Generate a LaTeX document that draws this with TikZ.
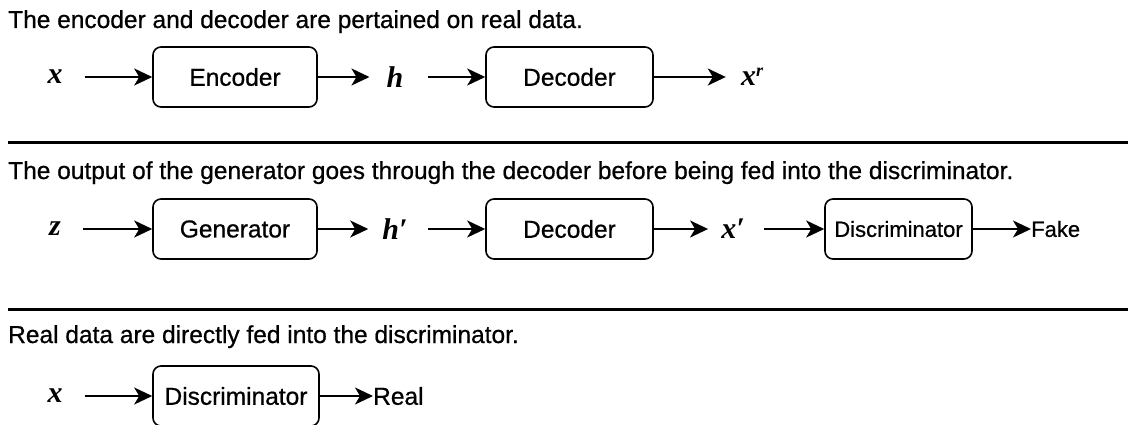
\documentclass[tikz,border=0pt]{standalone}
\usepackage{fontspec}
\setmainfont{Liberation Serif}
\setsansfont{Liberation Sans}[FakeBold=0.7]
\usetikzlibrary{arrows.meta}

\tikzset{
  blk/.style={draw, line width=1.6pt, rounded corners=8pt, inner sep=0pt,
    font=\sffamily\fontsize{24.5}{29}\selectfont, minimum height=60pt},
  var/.style={inner sep=0pt, font=\rmfamily\bfseries\itshape\fontsize{30}{34}\selectfont},
  word/.style={inner sep=0pt, font=\sffamily\fontsize{24.5}{29}\selectfont},
  small/.style={font=\sffamily\fontsize{22}{26}\selectfont},
  heading/.style={inner sep=0pt, anchor=base west, font=\sffamily\fontsize{24.5}{29}\selectfont},
  arr/.style={line width=2pt, -{Stealth[length=18pt,width=17pt,inset=5pt]}},
  rule/.style={line width=3pt},
}

\begin{document}
\begin{tikzpicture}[x=1pt,y=-1pt]
\useasboundingbox (0,0) rectangle (1144,425);

% --- pretraining of encoder and decoder
\node[heading] (t1) at (8,28) {The encoder and decoder are pertained on real data.};
\node[var] (x1) at (55,77) {x};
\node[blk, minimum width=164pt] (enc1) at (235,77) {Encoder};
\node[var] (h1) at (395,77) {h};
\node[blk, minimum width=167pt] (dec1) at (569.5,77) {Decoder};
\node[var] (xr1) at (752,77) {x\raisebox{0.3em}{\fontsize{18}{18}\selectfont r}};
\draw[arr, shorten <=22pt] (x1) -- (enc1);
\draw[arr, shorten >=17pt] (enc1) -- (h1);
\draw[arr, shorten <=24pt] (h1) -- (dec1);
\draw[arr, shorten >=15pt] (dec1) -- (xr1);

\coordinate (r1a) at (8,143);
\coordinate (r1b) at (1128,143);
\draw[rule] (r1a) -- (r1b);

% --- generator branch
\node[heading] (t2) at (8,179) {The output of the generator goes through the decoder before being fed into the discriminator.};
\node[var] (z2) at (55,229) {z};
\node[blk, minimum width=164pt] (gen2) at (235,229) {Generator};
\node[var] (h2) at (395,229) {h′};
\node[blk, minimum width=167pt] (dec2) at (569.5,229) {Decoder};
\node[var] (x2) at (733,229) {x′};
\node[blk, small, minimum width=147pt] (dis2) at (898.5,229) {Discriminator};
\node[word, small, anchor=west] (fake) at (1031,229) {Fake};
\draw[arr, shorten <=22pt] (z2) -- (gen2);
\draw[arr, shorten >=14pt] (gen2) -- (h2);
\draw[arr, shorten <=20pt] (h2) -- (dec2);
\draw[arr, shorten >=13pt] (dec2) -- (x2);
\draw[arr, shorten <=19pt] (x2) -- (dis2);
\draw[arr] (dis2) -- (fake);

\coordinate (r2a) at (8,309);
\coordinate (r2b) at (1128,309);
\draw[rule] (r2a) -- (r2b);

% --- real data branch
\node[heading] (t3) at (8,343) {Real data are directly fed into the discriminator.};
\node[var] (x3) at (55,396) {x};
\node[blk, minimum width=166pt] (dis3) at (236,396) {Discriminator};
\node[word, anchor=west] (real) at (373,396) {Real};
\draw[arr, shorten <=22pt] (x3) -- (dis3);
\draw[arr] (dis3) -- (real);
\end{tikzpicture}
\end{document}
